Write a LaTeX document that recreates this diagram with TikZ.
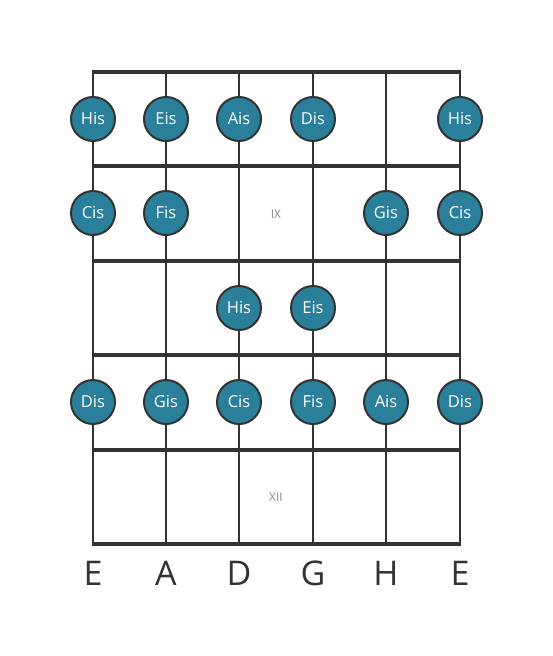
\documentclass[tikz,border=0pt]{standalone}
\usepackage{fontspec}
\setmainfont{Open Sans}
\definecolor{notefill}{HTML}{2A7F9A}
\definecolor{linec}{HTML}{333333}
\definecolor{fretlabel}{HTML}{888888}
\begin{document}
\begin{tikzpicture}[x=1pt,y=-1pt,
  stringline/.style={draw=linec,line width=2.6pt},
  fretline/.style={draw=linec,line width=4pt},
  notecirc/.style={circle,draw=linec,line width=2pt,fill=notefill,minimum size=44pt,inner sep=0pt,text=white,font=\fontsize{16.5}{16.5}\selectfont},
  fretnum/.style={text=fretlabel,font=\fontsize{12}{12}\selectfont},
  stringname/.style={text=linec,font=\fontsize{34}{34}\selectfont}]
\useasboundingbox (0,0) rectangle (553,656);
% coordinates
\foreach \i/\x in {1/93,2/166,3/239,4/313,5/386,6/460}{
  \coordinate (t\i) at (\x,72);
  \coordinate (b\i) at (\x,544);
}
\foreach \j/\y in {0/72,1/166,2/261,3/355,4/450,5/544}{
  \coordinate (l\j) at (91.7,\y);
  \coordinate (r\j) at (461.3,\y);
}
\foreach \i in {1,...,6}{\draw[stringline] (t\i) -- (b\i);}
\foreach \j in {0,...,5}{\draw[fretline] (l\j) -- (r\j);}
% fret numbers
\node[fretnum] (ix) at (276,214) {IX};
\node[fretnum] (xii) at (276,497) {XII};
% notes row 1
\node[notecirc] (n11) at (93,119) {His};
\node[notecirc] (n12) at (166,119) {Eis};
\node[notecirc] (n13) at (239,119) {Ais};
\node[notecirc] (n14) at (313,119) {Dis};
\node[notecirc] (n16) at (460,119) {His};
% row 2
\node[notecirc] (n21) at (93,213) {Cis};
\node[notecirc] (n22) at (166,213) {Fis};
\node[notecirc] (n25) at (386,213) {Gis};
\node[notecirc] (n26) at (460,213) {Cis};
% row 3
\node[notecirc] (n33) at (239,308) {His};
\node[notecirc] (n34) at (313,308) {Eis};
% row 4
\node[notecirc] (n41) at (93,402) {Dis};
\node[notecirc] (n42) at (166,402) {Gis};
\node[notecirc] (n43) at (239,402) {Cis};
\node[notecirc] (n44) at (313,402) {Fis};
\node[notecirc] (n45) at (386,402) {Ais};
\node[notecirc] (n46) at (460,402) {Dis};
% string names
\node[stringname] (s1) at (93,573) {E};
\node[stringname] (s2) at (166,573) {A};
\node[stringname] (s3) at (239,573) {D};
\node[stringname] (s4) at (313,573) {G};
\node[stringname] (s5) at (386,573) {H};
\node[stringname] (s6) at (460,573) {E};
\end{tikzpicture}
\end{document}
